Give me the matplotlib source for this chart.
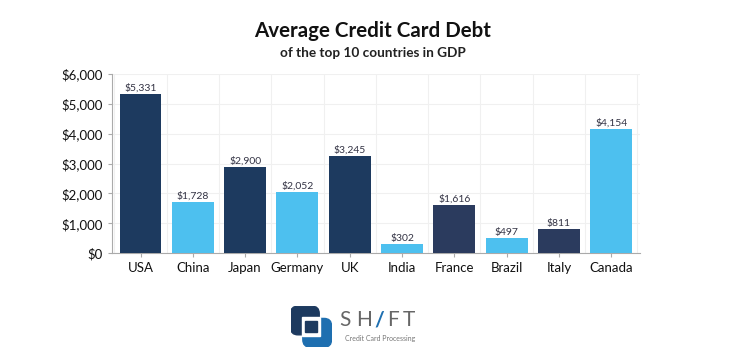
import matplotlib
matplotlib.use("Agg")
import matplotlib.pyplot as plt
from matplotlib.patches import FancyBboxPatch, Rectangle
from matplotlib.ticker import FuncFormatter, MultipleLocator

countries = ["USA", "China", "Japan", "Germany", "UK", "India", "France", "Brazil", "Italy", "Canada"]
debt = [5331, 1728, 2900, 2052, 3245, 302, 1616, 497, 811, 4154]
bar_colors = ["#1d3a5f", "#4dc0ef", "#1d3a5f", "#4dc0ef", "#1d3a5f",
              "#4dc0ef", "#2b3b5e", "#4dc0ef", "#2b3b5e", "#4dc0ef"]

plt.rcParams['font.family'] = ['Lato', 'DejaVu Sans']

fig = plt.figure(figsize=(7.45, 3.56), dpi=100)
ax = fig.add_axes([0.150, 0.289, 0.709, 0.503])

x = list(range(len(countries)))
bars = ax.bar(x, debt, width=0.8, color=bar_colors, zorder=3)
for xi, v in zip(x, debt):
    ax.text(xi, v + 40, f"${v:,}", ha="center", va="bottom", fontsize=7.5, color="#333344", zorder=4)

ax.set_xlim(-0.55, 9.55)
ax.set_ylim(0, 6000)
ax.yaxis.set_major_locator(MultipleLocator(1000))
ax.yaxis.set_major_formatter(FuncFormatter(lambda v, p: f"${int(v):,}"))
ax.set_xticks(x)
ax.set_xticklabels(countries)
ax.set_xticks([i + 0.5 for i in range(-1, 10)], minor=True)
ax.tick_params(axis="both", labelsize=9.5, colors="#aaaaaa", labelcolor="#111111", length=3)
ax.tick_params(axis="x", which="minor", length=0)
ax.grid(axis="y", which="major", color="#f0f0f0", linewidth=0.8, zorder=0)
ax.grid(axis="x", which="minor", color="#f0f0f0", linewidth=0.8, zorder=0)
for s in ["top", "right"]:
    ax.spines[s].set_visible(False)
for s in ["left", "bottom"]:
    ax.spines[s].set_color("#aaaaaa")

fig.text(0.50, 0.912, "Average Credit Card Debt", ha="center", va="center",
         fontsize=14.8, fontweight="bold", color="#111111")
fig.text(0.50, 0.852, "of the top 10 countries in GDP", ha="center", va="center",
         fontsize=9.8, fontweight="bold", color="#222222")

# logo
lax = fig.add_axes([0.39, 0.025, 0.055, 0.115])
lax.set_xlim(0, 1); lax.set_ylim(0, 1); lax.axis("off")
lax.add_patch(FancyBboxPatch((0.0, 0.3), 0.7, 0.7, boxstyle="round,pad=0,rounding_size=0.18",
                             color="#1d3a5f"))
lax.add_patch(FancyBboxPatch((0.3, 0.0), 0.7, 0.7, boxstyle="round,pad=0,rounding_size=0.18",
                             color="#1e6fb0"))
lax.add_patch(Rectangle((0.27, 0.27), 0.46, 0.46, color="white"))
lax.add_patch(Rectangle((0.36, 0.36), 0.28, 0.28, color="#1d3a5f"))
logo_y = 0.100
for ch, xpos, col in [("S", 0.455, "#666666"), ("H", 0.478, "#666666"), ("/", 0.503, "#1e6fb0"),
                      ("F", 0.519, "#666666"), ("T", 0.540, "#666666")]:
    fig.text(xpos, logo_y, ch, fontsize=15, color=col, va="center", ha="left",
             fontweight="bold" if ch == "/" else "normal")
fig.text(0.463, 0.050, "Credit Card Processing", fontsize=5, color="#777777", va="center", ha="left")

fig.savefig("out.png", dpi=100, facecolor="white")
